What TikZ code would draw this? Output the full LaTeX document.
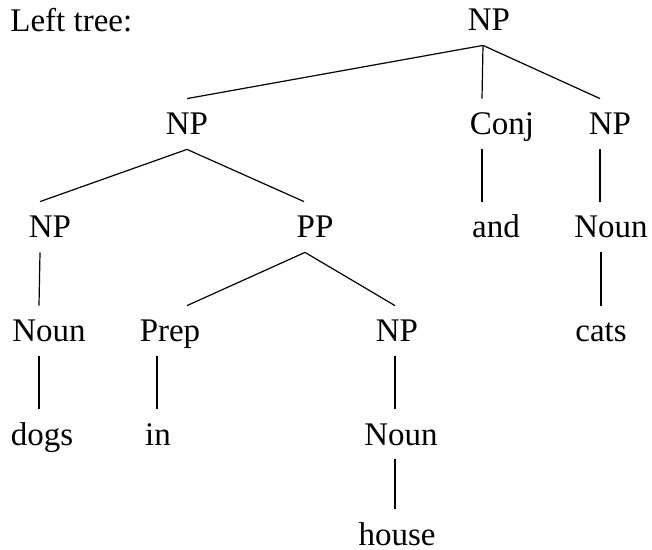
\documentclass[tikz,border=0pt]{standalone}
\usepackage{fontspec}
\setmainfont{Liberation Serif}
\usepackage{tikz}

\begin{document}
\begin{tikzpicture}[x=0.5pt,y=-0.5pt,
  word/.style={inner xsep=0pt,inner ysep=7pt,text height=11pt,text depth=0pt,
    font=\fontsize{16.5}{20}\selectfont}]
\useasboundingbox (0,0) rectangle (652,550);
\node[word,anchor=west] (title) at (10,21) {Left tree:};
\foreach \n/\x/\l in{
root/{(489,20)}/{NP},
npl/{(187,124)}/{NP},
conj/{(502,124)}/{Conj},
npr/{(610,124)}/{NP},
npa/{(50,227)}/{NP},
pp/{(315,227)}/{PP},
and/{(496,227)}/{and},
nounr/{(611,227)}/{Noun},
nouna/{(49,331)}/{Noun},
prep/{(170,331)}/{Prep},
npb/{(397,331)}/{NP},
cats/{(601,331)}/{cats},
dogs/{(42,434)}/{dogs},
in/{(158,434)}/{in},
nounb/{(401,434)}/{Noun},
house/{(397,534)}/{house}
}
{
        \node[word] (\n) at \x {\l};
    }
% branches, shifted onto the stems of the labels
\foreach \a/\sa/\b/\sb in{
root/-3/npl/0, root/-3/conj/-10, root/-3/npr/-5,
npl/0/npa/-5, npl/0/pp/-5.5,
conj/-10/and/-7, npr/-5/nounr/-5.5,
npa/-5/nouna/-5, pp/-5/prep/8.5, pp/-5/npb/-1,
nounr/-5/cats/0,
nouna/-5/dogs/-1.5, prep/-6.5/in/-0.5, npb/-1/nounb/-3,
nounb/-3/house/-1
}
{
        \draw[line width=0.6pt] ([xshift=\sa pt]\a.south) -- ([xshift=\sb pt]\b.north);
    }
\end{tikzpicture}
\end{document}
